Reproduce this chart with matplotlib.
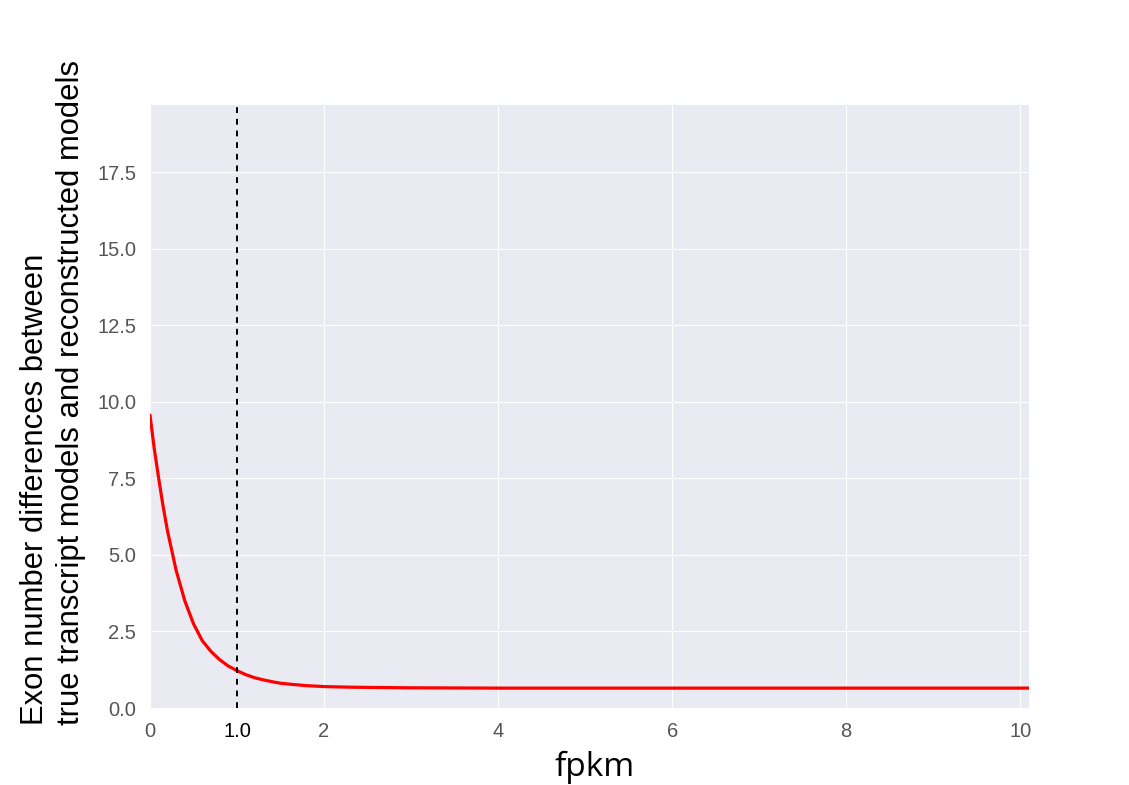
import matplotlib
matplotlib.use("Agg")
import matplotlib.pyplot as plt
import seaborn as sns

sns.set_style("darkgrid")
plt.rcParams['font.family'] = ['Liberation Sans', 'DejaVu Sans']

fpkm = [0.0, 0.05, 0.1, 0.15, 0.2, 0.3, 0.4, 0.5, 0.6, 0.7, 0.8, 0.9, 1.0, 1.1, 1.2, 1.3, 1.4,
        1.5, 1.6, 1.8, 2.0, 2.3, 2.6, 3.0, 4.0, 6.0, 8.0, 10.1]
exon_diff = [9.57, 8.45, 7.5, 6.6, 5.8, 4.5, 3.5, 2.75, 2.2, 1.85, 1.58, 1.37, 1.22, 1.09, 0.99,
             0.92, 0.86, 0.81, 0.78, 0.73, 0.70, 0.68, 0.67, 0.66, 0.65, 0.65, 0.65, 0.65]
threshold = 1.0
xticks = [0, 2, 4, 6, 8, 10]
yticks = [0.0, 2.5, 5.0, 7.5, 10.0, 12.5, 15.0, 17.5]

fig = plt.figure(figsize=(11.29, 7.85), dpi=100)
ax = fig.add_axes([150/1129, 1 - 708/785, 879/1129, 603/785])

ax.plot(fpkm, exon_diff, color='red', lw=2.3)
ax.axvline(threshold, color='black', ls='--', lw=1.4, dashes=(3, 3))

ax.set_xlim(0, 10.1)
ax.set_ylim(0, 19.7)
ax.set_xticks(xticks)
ax.set_xticklabels([str(t) for t in xticks])
ax.set_yticks(yticks)
ax.set_yticklabels([f"{t:.1f}" for t in yticks])
ax.set_xticks([threshold], minor=True)
ax.set_xticklabels([f"{threshold:.1f}"], minor=True)
ax.tick_params(axis='both', which='both', length=0, labelsize=14.5, labelcolor='#555555', pad=10)
ax.tick_params(axis='x', which='minor', labelcolor='black')
for s in ax.spines.values():
    s.set_visible(False)

fig.text(595/1129, 1 - 767/785, "fpkm", ha='center', va='center', fontsize=24,
         color='black', family=['Open Sans', 'DejaVu Sans'])
fig.text(53/1129, 1 - 725/785,
         "Exon number differences between\ntrue transcript models and reconstructed models",
         rotation=90, ha='center', va='bottom', multialignment='left', fontsize=22.3,
         linespacing=1.28, color='black')

fig.savefig("out.png", dpi=100)
